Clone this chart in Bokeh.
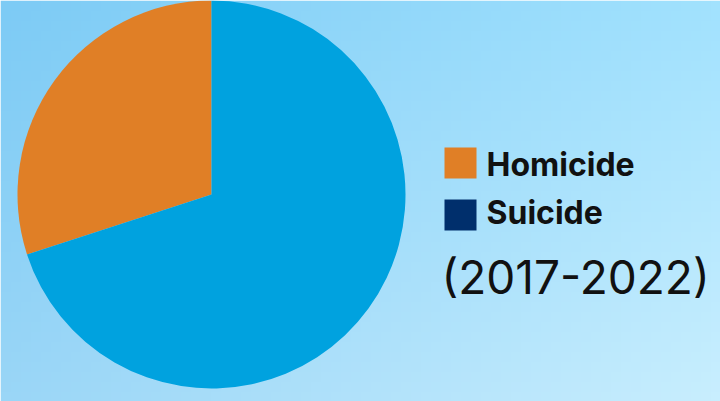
import numpy as np
from math import pi
from bokeh.plotting import figure
from bokeh.models import ColumnDataSource, Range1d
from bokeh.core.properties import value
from bokeh.embed import file_html
from bokeh.resources import INLINE

# ---- data ----
categories = ["Homicide", "Suicide"]
shares = [30, 70]
slice_colors = ["#E07F26", "#00A2DF"]
legend_colors = ["#E07F26", "#002F6C"]
period_label = "(2017-2022)"

W, H = 720, 401
p = figure(width=W, height=H, output_backend="svg", toolbar_location=None,
           x_range=Range1d(0, W), y_range=Range1d(0, H), min_border=0)
p.axis.visible = False
p.grid.visible = False
p.outline_line_color = None
p.border_fill_color = "#A8E0FB"

# background gradient (decorative)
ny, nx = 40, 72
tl = np.array([125, 203, 245]); tr = np.array([162, 226, 254])
bl = np.array([154, 214, 247]); br = np.array([200, 238, 254])
yy = np.linspace(0, 1, ny)[:, None, None]  # 0 bottom ->1 top
xx = np.linspace(0, 1, nx)[None, :, None]
top = tl * (1 - xx) + tr * xx
bot = bl * (1 - xx) + br * xx
col = bot * (1 - yy) + top * yy
img = np.empty((ny, nx), dtype=np.uint32)
view = img.view(dtype=np.uint8).reshape((ny, nx, 4))
view[:, :, 0:3] = col.astype(np.uint8)
view[:, :, 3] = 255
p.image_rgba(image=[img], x=0, y=0, dw=W, dh=H)

# pie
total = float(sum(shares))
starts, ends = [], []
acc = 0.0
for s in shares:
    starts.append(pi / 2 + 2 * pi * acc / total)
    acc += s
    ends.append(pi / 2 + 2 * pi * acc / total)
src = ColumnDataSource(dict(cat=categories, start=starts, end=ends, color=slice_colors))
p.wedge(x=211, y=207, radius=194, radius_units="screen",
        start_angle="start", end_angle="end", fill_color="color",
        line_color=None, source=src)

# legend
lx = 460
ly = [238.5, 186.5]
lsrc = ColumnDataSource(dict(x=[lx] * len(categories), y=ly, color=legend_colors,
                             tx=[486] * len(categories), ty=[237, 189], label=categories))
p.rect(x="x", y="y", width=32, height=31, width_units="screen", height_units="screen",
       fill_color="color", line_color=None, source=lsrc)
p.text(x="tx", y="ty", text="label", text_font=value("Inter"), text_font_style="bold",
       text_font_size="32px", text_baseline="alphabetic", text_color="#111111", source=lsrc)
p.text(x=[441], y=[125], text=[period_label], text_font=value("Inter"),
       text_font_size="46px", text_baseline="alphabetic", text_color="#111111")

open("out.html", "w").write(file_html(p, INLINE))
